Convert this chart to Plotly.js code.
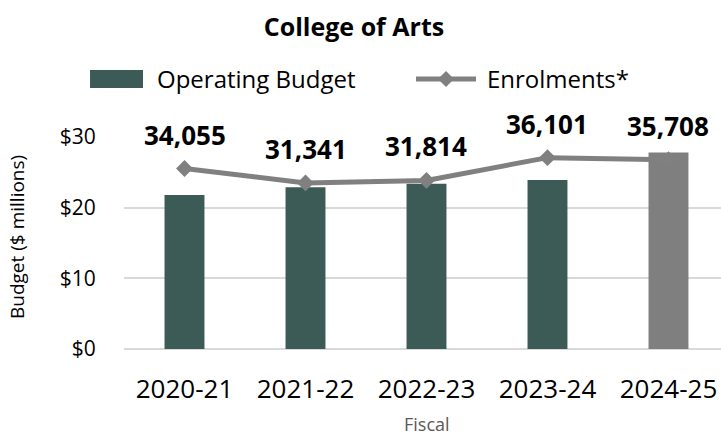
<!DOCTYPE html>
<html>
<head>
<meta charset="utf-8">
<script src="https://cdn.plot.ly/plotly-3.0.1.min.js"></script>
<style>html,body{margin:0;padding:0;background:#fff;}#chart{width:721px;height:438px;}</style>
</head>
<body>
<div id="chart"></div>
<script>
const categories = ["2020-21", "2021-22", "2022-23", "2023-24", "2024-25"];
const budget = [21.8, 22.9, 23.4, 23.9, 27.8];
const enrolments = [34055, 31341, 31814, 36101, 35708];
const enrolmentLabels = ["34,055", "31,341", "31,814", "36,101", "35,708"];
const budgetTicks = [0, 10, 20, 30];
const budgetTickText = ["$0", "$10", "$20", "$30"];

const FONT = "'Open Sans', 'Liberation Sans', sans-serif";
const barColors = ["#3c5b57", "#3c5b57", "#3c5b57", "#3c5b57", "#7f7f80"];

// plot area geometry (pixels)
const L = 124, T = 137, B = 89, W = 721 - L, H = 438 - T - B;
const px = x => (x - L) / W;
const py = y => (438 - B - y) / H;

const traces = [
  {
    type: "bar", name: "Operating Budget", x: categories, y: budget,
    marker: {color: barColors}, width: 0.33, hoverinfo: "skip", showlegend: false
  },
  {
    type: "scatter", mode: "lines+markers", name: "Enrolments*", x: categories, y: enrolments,
    yaxis: "y2", line: {color: "#808080", width: 5},
    marker: {symbol: "diamond", size: 13, color: "#808080"}, showlegend: false
  }
];

const annotations = categories.map((c, i) => ({
  x: c, y: enrolments[i], xref: "x", yref: "y2", text: "<b>" + enrolmentLabels[i] + "</b>",
  showarrow: false, yshift: 34, font: {family: FONT, size: 26, color: "#000"}
}));
annotations.push(
  {xref: "paper", yref: "paper", x: px(155), y: py(79), xanchor: "left", yanchor: "middle",
   text: "Operating Budget", showarrow: false, font: {family: FONT, size: 24, color: "#000"}},
  {xref: "paper", yref: "paper", x: px(485), y: py(79), xanchor: "left", yanchor: "middle",
   text: "Enrolments*", showarrow: false, font: {family: FONT, size: 24, color: "#000"}},
  {xref: "paper", yref: "paper", x: px(427), y: py(437), xanchor: "center", yanchor: "bottom",
   borderpad: 0, text: "Fiscal", showarrow: false, font: {family: FONT, size: 18, color: "#595959"}},
  {xref: "paper", yref: "paper", x: px(17), y: py(237), xanchor: "center", yanchor: "middle",
   text: "Budget ($ millions)", textangle: -90, showarrow: false, font: {family: FONT, size: 19, color: "#000"}}
);

const shapes = [
  {type: "rect", xref: "paper", yref: "paper", x0: px(90), x1: px(143), y0: py(88), y1: py(70),
   fillcolor: "#3c5b57", line: {width: 0}},
  {type: "line", xref: "paper", yref: "paper", x0: px(416), x1: px(476), y0: py(79), y1: py(79),
   line: {color: "#808080", width: 5}},
  {type: "path", xref: "paper", yref: "paper",
   path: `M ${px(446)} ${py(71)} L ${px(454)} ${py(79)} L ${px(446)} ${py(87)} L ${px(438)} ${py(79)} Z`,
   fillcolor: "#808080", line: {width: 0}}
];

const layout = {
  width: 721, height: 438,
  margin: {l: L, r: 0, t: T, b: B, pad: 0},
  paper_bgcolor: "#fff", plot_bgcolor: "#fff",
  font: {family: FONT, color: "#000"},
  title: {text: "<b>College of Arts</b>", x: 354 / 721, xanchor: "center", xref: "container",
          y: 1 - 27 / 438, yanchor: "middle", yref: "container",
          font: {family: FONT, size: 25, color: "#000"}},
  showlegend: false,
  xaxis: {
    type: "category", range: [-0.5, 4.434], showgrid: false, zeroline: false,
    showline: false, ticks: "outside", ticklen: 17, tickcolor: "rgba(0,0,0,0)",
    tickfont: {family: FONT, size: 26, color: "#000"}, fixedrange: true
  },
  yaxis: {
    range: [0, 30], tickvals: budgetTicks, ticktext: budgetTickText,
    showgrid: true, gridcolor: "#d9d9d9", gridwidth: 2,
    zeroline: true, zerolinecolor: "#d9d9d9", zerolinewidth: 2, showline: false,
    ticks: "outside", ticklen: 23, tickcolor: "rgba(0,0,0,0)",
    tickfont: {family: FONT, size: 21, color: "#000"}, fixedrange: true
  },
  yaxis2: {
    range: [0, 40000], overlaying: "y", side: "right", visible: false, showgrid: false, fixedrange: true
  },
  annotations: annotations,
  shapes: shapes
};

Plotly.newPlot("chart", traces, layout, {displayModeBar: false, staticPlot: true});
</script>
</body>
</html>
